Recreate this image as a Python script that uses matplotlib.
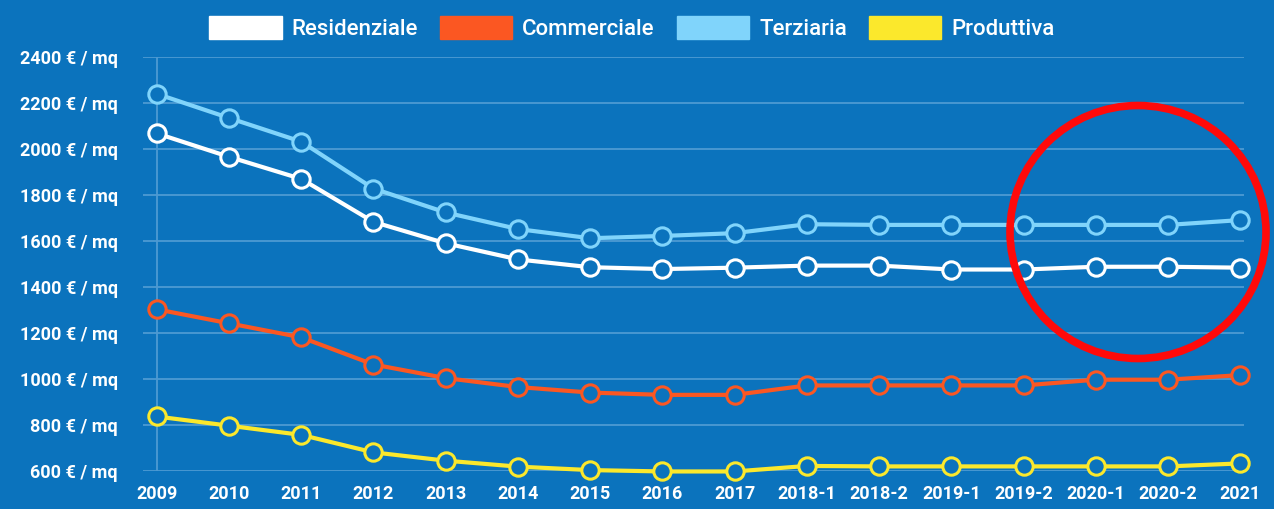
import numpy as np
import matplotlib
matplotlib.use("Agg")
import matplotlib.pyplot as plt
from matplotlib.patches import Patch, Ellipse

# dati (euro / mq)
periodi = ["2009", "2010", "2011", "2012", "2013", "2014", "2015", "2016", "2017",
           "2018-1", "2018-2", "2019-1", "2019-2", "2020-1", "2020-2", "2021"]
residenziale = [2068, 1966, 1870, 1683, 1590, 1520, 1486, 1478, 1484,
                1493, 1493, 1476, 1476, 1488, 1488, 1484]
commerciale = [1303, 1242, 1181, 1063, 1004, 965, 941, 931, 931,
               972, 972, 972, 972, 997, 997, 1017]
terziaria = [2240, 2135, 2032, 1828, 1724, 1652, 1612, 1622, 1634,
             1673, 1670, 1670, 1670, 1670, 1670, 1691]
produttiva = [837, 797, 757, 681, 645, 619, 604, 598, 598,
              622, 620, 620, 620, 620, 620, 633]

serie = ["Residenziale", "Commerciale", "Terziaria", "Produttiva"]
colori = ["#ffffff", "#fb5722", "#80d4fb", "#fbe82c"]
sfondo = "#0b73bd"
griglia = "#4d9ad3"

plt.rcParams['font.family'] = ['Roboto', 'DejaVu Sans']

fig = plt.figure(figsize=(12.74, 5.09), dpi=100, facecolor=sfondo)
ax = fig.add_axes([143/1274, 1-471/509, (1244-143)/1274, (471-57)/509])
ax.set_facecolor(sfondo)

x = np.arange(len(periodi))
for valori, col in zip([residenziale, commerciale, terziaria, produttiva], colori):
    ax.plot(x, valori, color=col, lw=3, marker='o', ms=12.5, mfc=sfondo,
            mec=col, mew=2.2, clip_on=False, zorder=3)

ax.set_xlim(-0.19, 15.05)
ax.set_ylim(600, 2400)
ax.set_yticks(np.arange(600, 2401, 200))
ax.set_yticklabels([f"{v} € / mq" for v in range(600, 2401, 200)])
ax.set_xticks(x)
ax.set_xticklabels(periodi)
ax.grid(axis='y', color=griglia, lw=1.3)
ax.axvline(0, color=griglia, lw=1.3, zorder=1)
ax.set_axisbelow(True)
for s in ax.spines.values():
    s.set_visible(False)
ax.tick_params(axis='y', length=0, pad=18, labelsize=13, labelcolor='white')
ax.tick_params(axis='x', length=0, pad=10, labelsize=13, labelcolor='white')
for t in ax.get_xticklabels() + ax.get_yticklabels():
    t.set_fontweight('bold')

maniglie = [Patch(facecolor=c, edgecolor=c) for c in colori]
leg = fig.legend(maniglie, serie, loc='center', bbox_to_anchor=(632/1274, 1-28/509),
                 ncol=4, frameon=False, fontsize=16, labelcolor='white',
                 handlelength=3.25, handleheight=1.25, handletextpad=0.45,
                 columnspacing=1.0)
for t in leg.get_texts():
    t.set_fontweight('medium')

# cerchio rosso di evidenziazione
fig.patches.append(Ellipse((1138/1274, 1-232/509), 256/1274, 253/509,
                           transform=fig.transFigure, fill=False,
                           edgecolor='#ff0a0a', lw=5.5, zorder=10))

fig.savefig("out.png", dpi=100, facecolor=sfondo)
